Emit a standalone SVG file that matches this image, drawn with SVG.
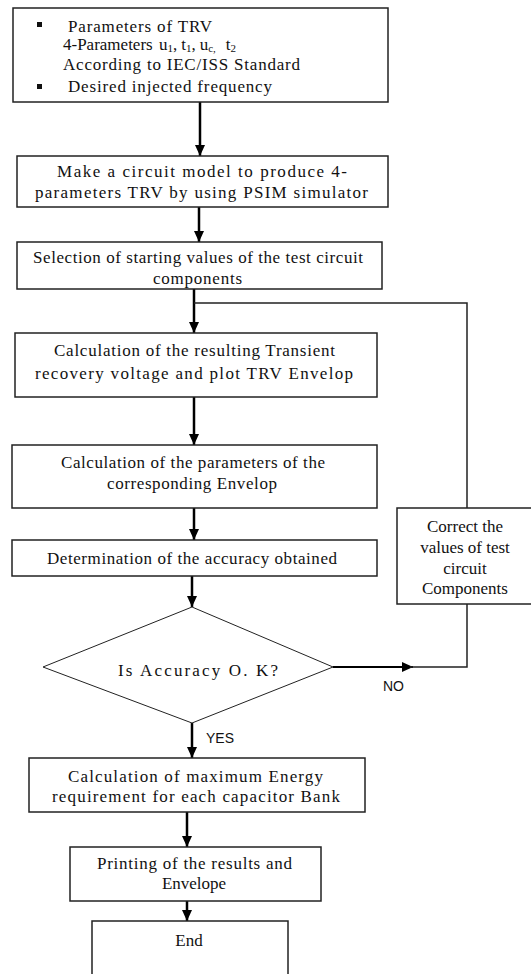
<svg xmlns="http://www.w3.org/2000/svg" width="531" height="974" viewBox="0 0 531 974">
<style>
.box{fill:#fff;stroke:#222;stroke-width:1.5}
.dia{fill:#fff;stroke:#222;stroke-width:1}
.t{font-family:"Liberation Serif","Times New Roman",serif;font-size:17px;fill:#111}
.s{font-family:"Liberation Sans",Arial,sans-serif;font-size:14px;fill:#111}
.c{text-anchor:middle}
.arr{stroke:#000;stroke-width:2.5;fill:none;marker-end:url(#ah)}
.fb{stroke:#222;stroke-width:1.5;fill:none}
</style>
<defs>
<marker id="ah" markerUnits="userSpaceOnUse" markerWidth="12" markerHeight="12" viewBox="0 0 12 12" refX="11" refY="6" orient="auto">
<path d="M0,1 L11,6 L0,11 Z" fill="#000"/>
</marker>
</defs>
<rect width="531" height="974" fill="#fff"/>

<g id="connectors">
<line class="arr" x1="200" y1="102" x2="200" y2="156"/>
<line class="arr" x1="199" y1="207" x2="199" y2="242"/>
<line class="arr" x1="194" y1="289" x2="194" y2="333"/>
<line class="arr" x1="194" y1="397" x2="194" y2="445"/>
<line class="arr" x1="194" y1="508" x2="194" y2="540"/>
<line class="arr" x1="192" y1="576" x2="192" y2="607"/>
<line class="arr" x1="192" y1="723" x2="192" y2="758"/>
<line class="arr" x1="187" y1="812" x2="187" y2="847"/>
<line class="arr" x1="187" y1="901" x2="187" y2="921"/>
<path class="fb" d="M194,303 H467 V508"/>
<line x1="333" y1="667" x2="413" y2="667" stroke="#000" stroke-width="2" marker-end="url(#ah)"/>
<path class="fb" d="M410,667 H467 V604"/>
<text class="s" x="383" y="691">NO</text>
<text class="s" x="206" y="743">YES</text>
</g>

<g id="n1">
<rect class="box" x="13" y="8" width="375" height="94"/>
<rect x="37" y="22" width="5" height="5" fill="#111"/>
<text class="t" x="68" y="32" textLength="144" lengthAdjust="spacing">Parameters of TRV</text>
<text class="t" x="63" y="50">4-Parameters <tspan dx="2">u</tspan><tspan font-size="11" dy="2">1</tspan><tspan dy="-2">,</tspan><tspan dx="4">t</tspan><tspan font-size="11" dy="2">1</tspan><tspan dy="-2">,</tspan><tspan dx="4">u</tspan><tspan font-size="11" dy="2">c,</tspan><tspan dx="10" dy="-2">t</tspan><tspan font-size="11" dy="2">2</tspan></text>
<text class="t" x="63" y="70" textLength="237" lengthAdjust="spacing">According to IEC/ISS Standard</text>
<rect x="37" y="84" width="5" height="5" fill="#111"/>
<text class="t" x="68" y="92" textLength="204" lengthAdjust="spacing">Desired injected frequency</text>
</g>

<g id="n2">
<rect class="box" x="17" y="156" width="371" height="51"/>
<text class="t" x="57" y="177" textLength="290" lengthAdjust="spacing">Make a circuit model to produce 4-</text>
<text class="t" x="35" y="198" textLength="333" lengthAdjust="spacing">parameters TRV by using PSIM simulator</text>
</g>

<g id="n3">
<rect class="box" x="17" y="242" width="365" height="47"/>
<text class="t" x="33" y="263" textLength="330" lengthAdjust="spacing">Selection of starting values of the test circuit</text>
<text class="t" x="153" y="284" textLength="89" lengthAdjust="spacing">components</text>
</g>

<g id="n4">
<rect class="box" x="15" y="333" width="362" height="64"/>
<text class="t" x="54" y="356" textLength="281" lengthAdjust="spacing">Calculation of the resulting Transient</text>
<text class="t" x="35" y="379" textLength="318" lengthAdjust="spacing">recovery voltage and plot TRV Envelop</text>
</g>

<g id="n5">
<rect class="box" x="12" y="445" width="365" height="63"/>
<text class="t" x="61" y="468" textLength="264" lengthAdjust="spacing">Calculation of the parameters of the</text>
<text class="t" x="107" y="489" textLength="170" lengthAdjust="spacing">corresponding Envelop</text>
</g>

<g id="n6">
<rect class="box" x="12" y="540" width="365" height="36"/>
<text class="t" x="47" y="564" textLength="290" lengthAdjust="spacing">Determination of the accuracy obtained</text>
</g>

<g id="n7">
<polygon class="dia" points="192,607 333,667 192,723 43,667"/>
<text class="t" x="118" y="676" textLength="160" lengthAdjust="spacing">Is  Accuracy  O. K?</text>
</g>

<g id="n8">
<rect class="box" x="397" y="508" width="140" height="96"/>
<text class="t c" x="465" y="532">Correct the</text>
<text class="t c" x="465" y="553">values of test</text>
<text class="t c" x="465" y="574">circuit</text>
<text class="t c" x="465" y="594">Components</text>
</g>

<g id="n9">
<rect class="box" x="29" y="758" width="336" height="54"/>
<text class="t" x="68" y="782" textLength="255" lengthAdjust="spacing">Calculation of maximum Energy</text>
<text class="t" x="52" y="802" textLength="288" lengthAdjust="spacing">requirement for each capacitor Bank</text>
</g>

<g id="n10">
<rect class="box" x="70" y="847" width="251" height="54"/>
<text class="t" x="97" y="869" textLength="195" lengthAdjust="spacing">Printing of the results  and</text>
<text class="t c" x="194" y="889">Envelope</text>
</g>

<g id="n11">
<rect class="box" x="92" y="921" width="196" height="70"/>
<text class="t c" x="189" y="946">End</text>
</g>
</svg>
